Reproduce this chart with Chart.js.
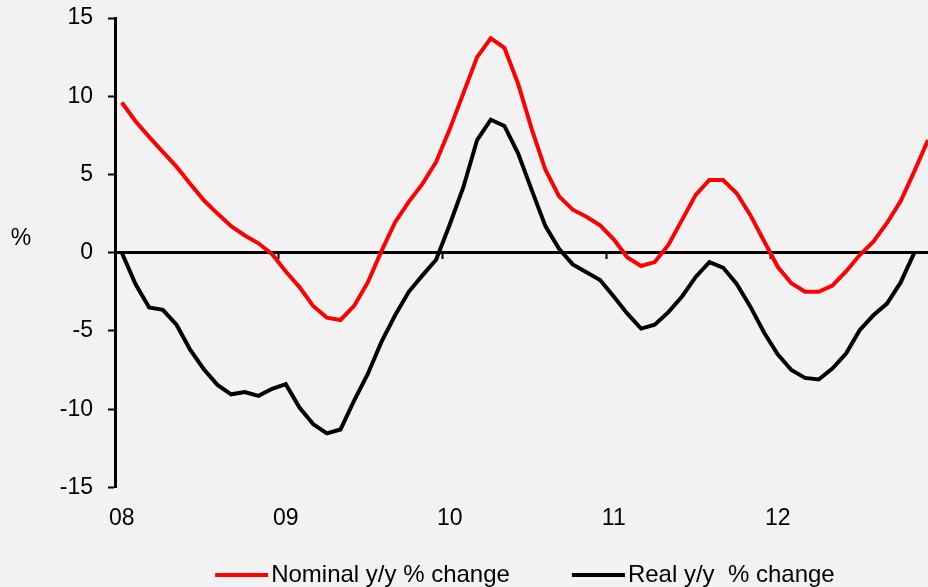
<!DOCTYPE html>
<html>
  <head>
    <script src="https://cdn.jsdelivr.net/npm/chart.js@4"></script>
    <style>
      html, body { margin: 0; padding: 0; overflow: hidden; background: #f2f2f2; }
      #wrap { width: 945px; height: 587px; }
    </style>
  </head>

  <body>
    <div id="wrap">
      <canvas id="canvas"></canvas>
    </div>
    <script>
      const years = ['08', '09', '10', '11', '12'];
      const months = years.flatMap((y) => Array.from({ length: 12 }, (_, m) => y + '-' + (m + 1)));

      const nominal = [
        9.6, 8.4, 7.4, 6.45, 5.5, 4.4, 3.35, 2.5, 1.7, 1.1, 0.6, -0.1,
        -1.2, -2.2, -3.4, -4.15, -4.3, -3.4, -1.9, 0.1, 1.95, 3.25, 4.4, 5.8,
        7.9, 10.2, 12.5, 13.7, 13.1, 10.8, 7.9, 5.3, 3.6, 2.75, 2.3, 1.75,
        0.85, -0.3, -0.85, -0.6, 0.5, 2.1, 3.7, 4.65, 4.65, 3.8, 2.4, 0.75,
        -0.9, -1.95, -2.5, -2.5, -2.1, -1.2, -0.15, 0.7, 1.9, 3.3, 5.2, 7.2,
      ];
      const real = [
        0, -2.0, -3.5, -3.65, -4.6, -6.2, -7.45, -8.45, -9.05, -8.9, -9.15, -8.7,
        -8.4, -9.9, -10.95, -11.55, -11.3, -9.45, -7.75, -5.7, -4.0, -2.5, -1.45, -0.45,
        1.8, 4.2, 7.2, 8.5, 8.1, 6.35, 4.0, 1.7, 0.25, -0.75, -1.25, -1.75,
        -2.8, -3.9, -4.85, -4.6, -3.8, -2.8, -1.55, -0.6, -0.95, -2.0, -3.45, -5.1,
        -6.5, -7.5, -8.0, -8.1, -7.4, -6.45, -4.95, -4.0, -3.25, -1.9, 0, null,
      ];

      const FONT = '"Liberation Sans", Arial, sans-serif';

      // "%" label and the legend under the axis
      const extras = {
        id: 'extras',
        afterDraw(chart) {
          const { ctx, chartArea } = chart;
          ctx.save();
          ctx.fillStyle = '#000';
          ctx.textBaseline = 'middle';
          ctx.textAlign = 'center';
          ctx.font = '23px ' + FONT;
          ctx.fillText('%', 21, 239);

          ctx.textAlign = 'left';
          ctx.font = '24px ' + FONT;
          const lineW = 53, gap = 62, y = 575;
          const items = chart.data.datasets.map((ds) => ({
            text: ds.label,
            color: ds.borderColor,
            w: lineW + 3 + ctx.measureText(ds.label).width,
          }));
          const total = items.reduce((s, it) => s + it.w, 0) + gap * (items.length - 1);
          let x = (chartArea.left + chartArea.right) / 2 - total / 2;
          items.forEach((it) => {
            ctx.strokeStyle = it.color;
            ctx.lineWidth = 4;
            ctx.beginPath();
            ctx.moveTo(x, y);
            ctx.lineTo(x + lineW, y);
            ctx.stroke();
            ctx.fillStyle = '#000';
            ctx.fillText(it.text, x + lineW + 3, y);
            x += it.w + gap;
          });
          ctx.restore();
        },
      };

      new Chart(document.getElementById('canvas'), {
        type: 'line',
        data: {
          labels: months,
          datasets: [
            {
              label: 'Nominal y/y % change',
              data: nominal,
              borderColor: '#ff0000',
              borderWidth: 4,
              pointRadius: 0,
              tension: 0,
            },
            {
              label: 'Real y/y  % change',
              data: real,
              borderColor: '#000000',
              borderWidth: 4,
              pointRadius: 0,
              tension: 0,
            },
          ],
        },
        options: {
          responsive: true,
          maintainAspectRatio: false,
          animation: false,
          layout: { padding: { top: 18, bottom: 38, left: 0, right: 0 } },
          plugins: {
            legend: { display: false },
            tooltip: { enabled: false },
          },
          scales: {
            x: {
              type: 'category',
              offset: true,
              grid: { display: false, drawTicks: false },
              border: { display: false },
              ticks: {
                autoSkip: false,
                maxRotation: 0,
                padding: 17,
                color: '#000',
                font: { size: 23, family: FONT },
                callback: (v, i) => (i % 12 === 0 ? years[i / 12] : ''),
              },
            },
            zero: {
              type: 'category',
              axis: 'x',
              position: { y: 0 },
              offset: true,
              grid: {
                offset: true,
                drawOnChartArea: false,
                tickLength: 5,
                tickWidth: 2,
                tickColor: (ctx) => (ctx.index % 12 === 0 ? '#000' : 'rgba(0,0,0,0)'),
              },
              border: { display: true, color: '#000', width: 3 },
              ticks: { display: false, autoSkip: false },
            },
            y: {
              min: -15,
              max: 15,
              ticks: {
                stepSize: 5,
                padding: 15,
                color: '#000',
                font: { size: 23, family: FONT },
              },
              grid: {
                drawOnChartArea: false,
                color: '#000',
                tickLength: 7,
                tickWidth: 2,
              },
              border: { display: true, color: '#000', width: 3 },
              afterFit: (scale) => {
                scale.width = 115;
                scale.paddingTop = 0;
                scale.paddingBottom = 0;
              },
            },
          },
        },
        plugins: [extras],
      });
    </script>
  </body>
</html>
